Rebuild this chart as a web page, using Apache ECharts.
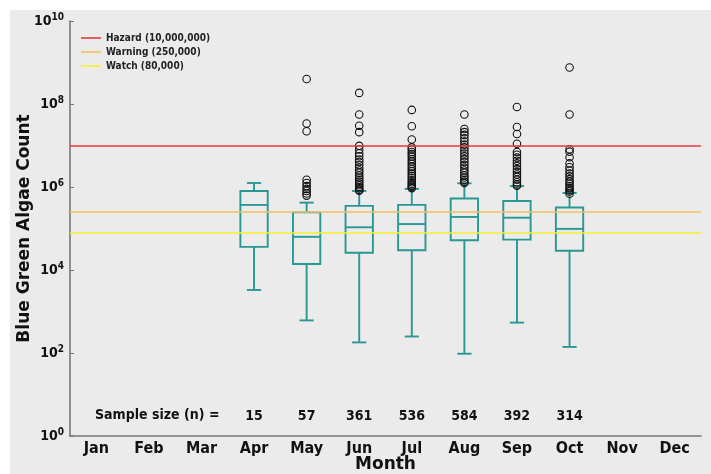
<!DOCTYPE html>
<html><head><meta charset="utf-8">
<script src="https://cdn.jsdelivr.net/npm/echarts@6/dist/echarts.min.js"></script>
<style>html,body{margin:0;padding:0;background:#fff}#c{width:711px;height:474px}</style>
</head><body><div id="c"></div>
<script>
var months = ['Jan','Feb','Mar','Apr','May','Jun','Jul','Aug','Sep','Oct','Nov','Dec'];
// [min whisker, Q1, median, Q3, max whisker]
var boxMonths = ['Apr','May','Jun','Jul','Aug','Sep','Oct'];
var boxStats = [
  [3.3e3, 3.6e4, 3.7e5, 8e5, 1.25e6],
  [6.1e2, 1.4e4, 6.3e4, 2.45e5, 4.2e5],
  [1.8e2, 2.6e4, 1.07e5, 3.5e5, 8e5],
  [2.5e2, 3e4, 1.28e5, 3.7e5, 9e5],
  [96, 5.2e4, 1.9e5, 5.3e5, 1.23e6],
  [5.4e2, 5.4e4, 1.82e5, 4.6e5, 1.05e6],
  [1.4e2, 2.9e4, 9.8e4, 3.2e5, 7.2e5]
];
var outliersMay = [4e8, 3.4e7, 2.2e7, 1.5e6, 1.25e6, 1.05e6, 9e5, 8e5, 7e5, 6.2e5];
var outliersJun = [1.85e8, 5.6e7, 3e7, 2.1e7, 9.8e6, 8e6, 6.5e6, 5.5e6, 4.6e6, 4e6, 3.4e6, 2.9e6, 2.5e6, 2.2e6, 1.9e6, 1.7e6, 1.5e6, 1.35e6, 1.2e6, 1.1e6, 1e6, 9.3e5, 8.6e5, 8.1e5];
var outliersJul = [7.2e7, 2.9e7, 1.4e7, 9e6, 8e6, 7e6, 6.2e6, 5.4e6, 4.7e6, 4.1e6, 3.6e6, 3.1e6, 2.7e6, 2.4e6, 2.1e6, 1.85e6, 1.65e6, 1.45e6, 1.3e6, 1.18e6, 1.08e6, 1e6, 9.4e5];
var outliersAug = [5.6e7, 2.5e7, 2.1e7, 1.8e7, 1.5e7, 1.25e7, 1.05e7, 9e6, 7.6e6, 6.4e6, 5.5e6, 4.7e6, 4e6, 3.4e6, 2.9e6, 2.5e6, 2.2e6, 1.9e6, 1.7e6, 1.5e6, 1.35e6, 1.25e6];
var outliersSep = [8.5e7, 2.8e7, 1.9e7, 1.1e7, 7e6, 6e6, 5.1e6, 4.3e6, 3.7e6, 3.2e6, 2.7e6, 2.3e6, 2e6, 1.75e6, 1.5e6, 1.3e6, 1.15e6, 1.07e6];
var outliersOct = [7.6e8, 5.6e7, 8.1e6, 7.1e6, 5.2e6, 3.7e6, 3e6, 2.5e6, 2.1e6, 1.8e6, 1.55e6, 1.35e6, 1.2e6, 1.05e6, 9.4e5, 8.5e5, 7.8e5, 6.9e5];
var sampleMonths = ['Apr','May','Jun','Jul','Aug','Sep','Oct'];
var sampleSizes = [15, 57, 361, 536, 584, 392, 314];
var thresholdNames = ['Hazard (10,000,000)', 'Warning (250,000)', 'Watch (80,000)'];
var thresholdValues = [10000000, 250000, 80000];
var thresholdColors = ['#e8393c', '#f2c25a', '#f4f231'];
var sampleLabelY = 3;

var FONT = 'DejaVu Sans Condensed, DejaVu Sans, sans-serif';
var FONT_W = 'DejaVu Sans, sans-serif';
var TEAL = '#2a9794';

var boxData = boxMonths.map(function (m, i) {
  return [months.indexOf(m)].concat(boxStats[i]);
});
var outlierSets = {May: outliersMay, Jun: outliersJun, Jul: outliersJul, Aug: outliersAug, Sep: outliersSep, Oct: outliersOct};
var outlierData = [];
Object.keys(outlierSets).forEach(function (m) {
  outlierSets[m].forEach(function (v) { outlierData.push([months.indexOf(m), v]); });
});
var sampleData = sampleMonths.map(function (m, i) { return [months.indexOf(m), sampleLabelY, sampleSizes[i]]; });

function renderBox(params, api) {
  var x = api.value(0);
  var lo = api.coord([x, api.value(1)]);
  var q1 = api.coord([x, api.value(2)]);
  var med = api.coord([x, api.value(3)]);
  var q3 = api.coord([x, api.value(4)]);
  var hi = api.coord([x, api.value(5)]);
  var bw = api.size([1, 0])[0] * 0.52;
  var cw = bw * 0.52;
  var cx = lo[0];
  var st = {stroke: TEAL, lineWidth: 1.9, fill: null};
  return {
    type: 'group',
    children: [
      {type: 'rect', shape: {x: cx - bw / 2, y: q3[1], width: bw, height: q1[1] - q3[1]}, style: st},
      {type: 'line', shape: {x1: cx - bw / 2, y1: med[1], x2: cx + bw / 2, y2: med[1]}, style: st},
      {type: 'line', shape: {x1: cx, y1: q3[1], x2: cx, y2: hi[1]}, style: st},
      {type: 'line', shape: {x1: cx, y1: q1[1], x2: cx, y2: lo[1]}, style: st},
      {type: 'line', shape: {x1: cx - cw / 2, y1: hi[1], x2: cx + cw / 2, y2: hi[1]}, style: st},
      {type: 'line', shape: {x1: cx - cw / 2, y1: lo[1], x2: cx + cw / 2, y2: lo[1]}, style: st}
    ]
  };
}

var series = [];
thresholdNames.forEach(function (n, i) {
  series.push({
    name: n, type: 'line', data: [], color: thresholdColors[i],
    lineStyle: {color: thresholdColors[i], width: 1.6},
    markLine: {silent: true, symbol: 'none', label: {show: false},
      lineStyle: {color: thresholdColors[i], width: 1.6, type: 'solid'},
      data: [{yAxis: thresholdValues[i]}]}
  });
});
series.push({
  type: 'custom', renderItem: renderBox, data: boxData,
  encode: {x: 0, y: [1, 2, 3, 4, 5]}, z: 3
});
series.push({
  type: 'scatter', data: outlierData, symbol: 'circle', symbolSize: 7.5,
  itemStyle: {color: 'rgba(0,0,0,0)', borderColor: '#111', borderWidth: 1.1, opacity: 1}, z: 4
});
series.push({
  type: 'scatter', data: sampleData, symbolSize: 0, z: 5,
  itemStyle: {opacity: 1},
  label: {show: true, position: 'inside', formatter: function (p) { return p.value[2]; },
    fontFamily: FONT, fontWeight: 'bold', fontSize: 14, color: '#111', textBorderWidth: 0}
});

var chart = echarts.init(document.getElementById('c'));
chart.setOption({
  animation: false,
  backgroundColor: '#ffffff',
  graphic: [
    {type: 'rect', left: 10, top: 10, shape: {width: 701, height: 464}, style: {fill: '#ebebeb'}, z: -10},
    {type: 'text', left: 95, top: 408, style: {text: 'Sample size (n) =', font: 'bold 14px ' + FONT, fill: '#111'}}
  ],
  grid: {left: 70, right: 10, top: 21, bottom: 38, outerBoundsMode: 'none', containLabel: false},
  legend: {
    data: thresholdNames, orient: 'vertical', left: 76, top: 28, itemGap: 4,
    icon: 'rect', itemWidth: 20, itemHeight: 1.6,
    textStyle: {fontFamily: FONT, fontWeight: 'bold', fontSize: 10, color: '#222'}
  },
  xAxis: {
    type: 'category', data: months, boundaryGap: true,
    name: 'Month', nameLocation: 'middle', nameGap: 20, nameMoveOverlap: false,
    nameTextStyle: {fontFamily: FONT_W, fontWeight: 'bold', fontSize: 17, color: '#111'},
    axisLine: {lineStyle: {color: '#777', width: 1.6}},
    axisTick: {inside: true, alignWithLabel: true, length: 4, lineStyle: {color: '#777'}},
    axisLabel: {fontFamily: FONT, fontWeight: 'bold', fontSize: 16, color: '#111', margin: 5},
    splitLine: {show: false}
  },
  yAxis: {
    type: 'log', logBase: 10, min: 1, max: 1e10, interval: 2,
    name: 'Blue Green Algae Count', nameLocation: 'middle', nameGap: 37, nameMoveOverlap: false,
    nameTextStyle: {fontFamily: FONT_W, fontWeight: 'bold', fontSize: 17, color: '#111'},
    axisLine: {show: true, lineStyle: {color: '#777', width: 1.6}},
    axisTick: {show: true, inside: true, length: 4, lineStyle: {color: '#777'}},
    minorTick: {show: false},
    splitLine: {show: false},
    axisLabel: {
      margin: 6,
      formatter: function (v) { var e = Math.round(Math.log10(v)); return '{b|10}{s|' + e + '}'; },
      rich: {
        b: {fontFamily: FONT, fontWeight: 'bold', fontSize: 14, color: '#111'},
        s: {fontFamily: FONT, fontWeight: 'bold', fontSize: 10, color: '#111', padding: [0, 0, 8, 0]}
      }
    }
  },
  series: series
});
</script></body></html>
